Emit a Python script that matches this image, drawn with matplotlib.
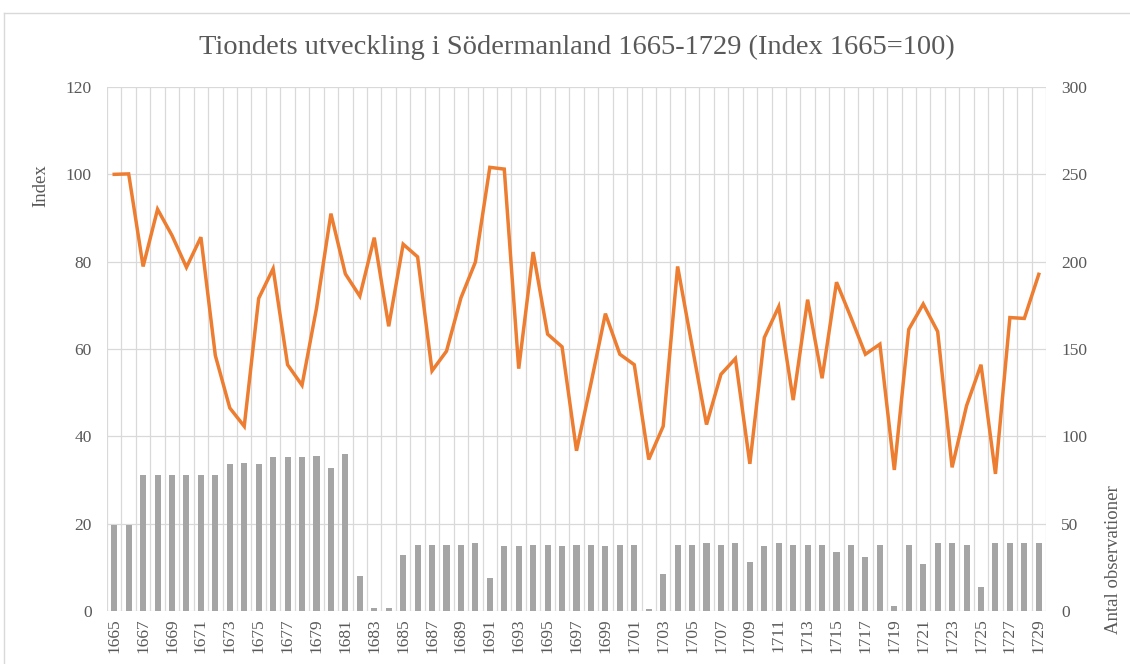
import matplotlib
matplotlib.use("Agg")
import matplotlib.pyplot as plt
import numpy as np
from matplotlib.ticker import FixedLocator

years = list(range(1665, 1730))

index_values = [
    100.0, 100.1, 78.9, 92.0, 86.0, 78.7, 85.6, 58.5, 46.5, 42.3,
    71.6, 78.4, 56.4, 51.7, 69.3, 91.0, 77.2, 72.1, 85.5, 65.2,
    84.0, 81.1, 55.0, 59.5, 71.7, 79.9, 101.6, 101.2, 55.5, 82.2,
    63.4, 60.5, 36.7, 52.1, 68.1, 58.8, 56.4, 34.7, 42.3, 78.9,
    60.7, 42.7, 54.2, 57.8, 33.7, 62.6, 69.7, 48.3, 71.3, 53.3,
    75.3, 67.2, 58.8, 61.1, 32.3, 64.5, 70.3, 64.0, 32.9, 47.0,
    56.4, 31.4, 67.2, 67.0, 77.1,
]

observations = [
    49, 49, 78, 78, 78, 78, 78, 78, 84, 85,
    84, 88, 88, 88, 89, 82, 90, 20, 2, 2,
    32, 38, 38, 38, 38, 39, 19, 37, 37, 38,
    38, 37, 38, 38, 37, 38, 38, 1, 21, 38,
    38, 39, 38, 39, 28, 37, 39, 38, 38, 38,
    34, 38, 31, 38, 3, 38, 27, 39, 39, 38,
    14, 39, 39, 39, 39,
]

title = "Tiondets utveckling i Södermanland 1665-1729 (Index 1665=100)"
left_label = "Index"
right_label = "Antal observationer"

serif = ["Liberation Serif", "DejaVu Serif"]
text_color = "#595959"
grid_color = "#d9d9d9"
line_color = "#ed7d31"
bar_color = "#a5a5a5"
tick_fs = 12.5

fig = plt.figure(figsize=(11.3, 6.64), dpi=100)
fig.patch.set_facecolor("white")

ax_bar = fig.add_axes([107/1130, 1-611/664, (1046-107)/1130, (611-87)/664])
ax_line = ax_bar.twinx()

x = np.arange(len(years))

# bars (right axis scale) drawn underneath
ax_bar.bar(x, observations, width=0.42, color=bar_color, zorder=2)
ax_bar.set_ylim(0, 300)
ax_bar.set_xlim(-0.5, len(years) - 0.5)
ax_bar.yaxis.set_major_locator(FixedLocator(np.arange(0, 301, 50)))
ax_bar.yaxis.tick_right()
ax_bar.xaxis.set_major_locator(FixedLocator(x[::2]))
ax_bar.set_xticklabels([str(y) for y in years[::2]], rotation=90,
                       fontfamily=serif, fontsize=tick_fs, color=text_color)
ax_bar.xaxis.set_minor_locator(FixedLocator(np.arange(-0.5, len(years), 1.0)))
ax_bar.grid(True, which="minor", axis="x", color=grid_color, lw=0.9, zorder=0)
ax_bar.grid(True, which="major", axis="y", color=grid_color, lw=0.9, zorder=0)
ax_bar.grid(False, which="major", axis="x")
ax_bar.set_axisbelow(True)
ax_bar.tick_params(axis="both", which="both", length=0, colors=text_color)
ax_bar.tick_params(axis="x", pad=5)
ax_bar.tick_params(axis="y", pad=11)
for lab in ax_bar.get_yticklabels():
    lab.set_fontfamily(serif)
    lab.set_fontsize(tick_fs)
    lab.set_color(text_color)
for s in ax_bar.spines.values():
    s.set_visible(False)

# line (left axis scale) drawn on top
ax_line.plot(x, index_values, color=line_color, lw=2.5, solid_joinstyle="miter", zorder=3)
ax_line.set_ylim(0, 120)
ax_line.yaxis.set_major_locator(FixedLocator(np.arange(0, 121, 20)))
ax_line.yaxis.tick_left()
ax_line.tick_params(axis="both", which="both", length=0, colors=text_color)
ax_line.tick_params(axis="y", pad=11)
for lab in ax_line.get_yticklabels():
    lab.set_fontfamily(serif)
    lab.set_fontsize(tick_fs)
    lab.set_color(text_color)
for s in ax_line.spines.values():
    s.set_visible(False)

fig.text(577/1130, 1-47/664, title, ha="center", va="center",
         fontfamily=serif, fontsize=20.5, color=text_color)
fig.text(41/1130, 1-186/664, left_label, ha="center", va="center", rotation=90,
         fontfamily=serif, fontsize=13.5, color=text_color)
fig.text(1114/1130, 1-560/664, right_label, ha="center", va="center", rotation=90,
         fontfamily=serif, fontsize=13.5, color=text_color)

# chart-area border (cropped Excel chart frame)
fig.add_artist(plt.Line2D([4/1130, 4/1130], [0, 1-13/664], transform=fig.transFigure,
                          color="#d9d9d9", lw=1))
fig.add_artist(plt.Line2D([4/1130, 1], [1-13/664, 1-13/664], transform=fig.transFigure,
                          color="#d9d9d9", lw=1))

fig.savefig("out.png", dpi=100, facecolor="white")
